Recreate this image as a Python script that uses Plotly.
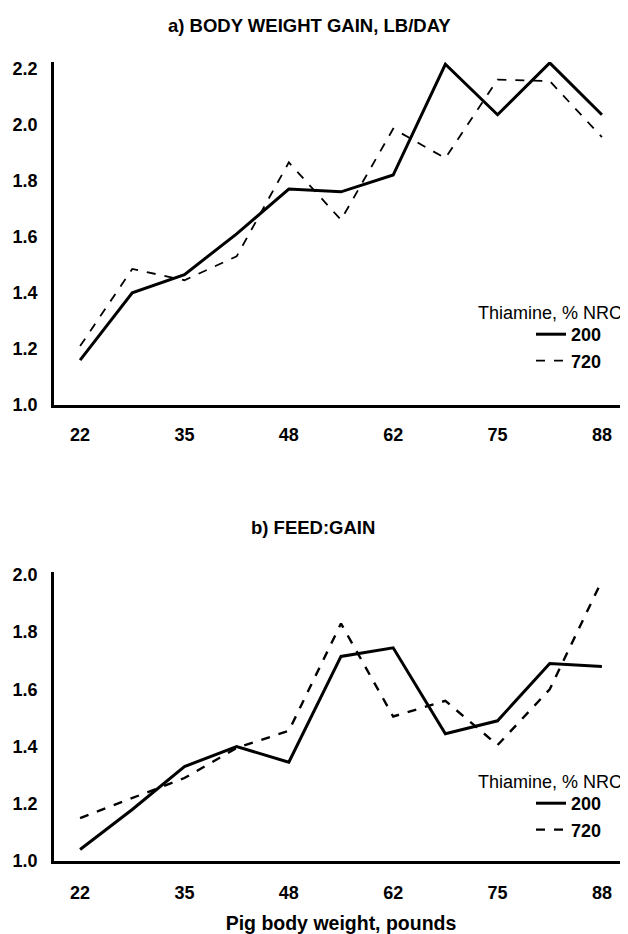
import plotly.graph_objects as go

# ---- data ----
periods = list(range(11))
tick_positions = periods[::2]
tick_labels = ["22", "35", "48", "62", "75", "88"]

gain_200 = [1.16, 1.40, 1.465, 1.61, 1.77, 1.76, 1.82, 2.215, 2.035, 2.22, 2.035]
gain_720 = [1.21, 1.485, 1.445, 1.53, 1.865, 1.66, 1.985, 1.88, 2.16, 2.155, 1.955]
fg_200 = [1.04, 1.18, 1.33, 1.40, 1.345, 1.715, 1.745, 1.445, 1.49, 1.69, 1.68]
fg_720 = [1.15, 1.22, 1.29, 1.395, 1.455, 1.83, 1.505, 1.56, 1.405, 1.60, 1.98]

gain_ticks = [1.0, 1.2, 1.4, 1.6, 1.8, 2.0, 2.2]
fg_ticks = [1.0, 1.2, 1.4, 1.6, 1.8, 2.0]

# page body has an 8px margin: figure is drawn at (8, 8)
OFF = 8
W, H = 628 - OFF, 934 - OFF
L = 54 - OFF
PW = W - L
FONT = "Liberation Sans, Arial, sans-serif"

fig = go.Figure()

fig.add_trace(go.Scatter(x=periods, y=gain_200, mode="lines", name="200",
                         line=dict(color="black", width=3), xaxis="x", yaxis="y",
                         legend="legend"))
fig.add_trace(go.Scatter(x=periods, y=gain_720, mode="lines", name="720",
                         line=dict(color="black", width=1.8, dash="dash"), xaxis="x", yaxis="y",
                         legend="legend"))
fig.add_trace(go.Scatter(x=periods, y=fg_200, mode="lines", name="200",
                         line=dict(color="black", width=3), xaxis="x2", yaxis="y2",
                         legend="legend2"))
fig.add_trace(go.Scatter(x=periods, y=fg_720, mode="lines", name="720",
                         line=dict(color="black", width=2.4, dash="dash"), xaxis="x2", yaxis="y2",
                         legend="legend2"))

def py(px):
    return 1 - (px - OFF) / H

def pxx(px):
    return (px - OFF - L) / PW

tickfont = dict(family=FONT, size=18, color="black", weight="bold")

xcommon = dict(range=[-0.5, 10.5], tickvals=tick_positions, ticktext=tick_labels,
               showline=True, linecolor="black", linewidth=2.5, showgrid=False,
               zeroline=False, ticks="", tickfont=tickfont,
               automargin=False, fixedrange=True)
ycommon = dict(showline=True, linecolor="black", linewidth=2.5, showgrid=False,
               zeroline=False, ticks="", tickfont=tickfont, tickformat=".1f",
               ticklabelstandoff=10, automargin=False)

legend_common = dict(xref="paper", yref="paper", xanchor="left", yanchor="top",
                     bgcolor="rgba(0,0,0,0)",
                     font=dict(family=FONT, size=18, weight="bold"),
                     tracegroupgap=0)

legend_title = "Thiamine, % NRC"

fig.update_layout(
    width=W, height=H,
    margin=dict(l=L, r=0, t=0, b=0, autoexpand=False),
    paper_bgcolor="white", plot_bgcolor="white",
    font=dict(family=FONT, color="black"),
    xaxis=dict(domain=[0, 1], anchor="y", ticklabelstandoff=12, **xcommon),
    yaxis=dict(domain=[py(405), py(62)], anchor="x", range=[1.0, 2.223],
               tickvals=gain_ticks, **ycommon),
    xaxis2=dict(domain=[0, 1], anchor="y2", ticklabelstandoff=14,
                title=dict(text="Pig body weight, pounds", standoff=24,
                           font=dict(family=FONT, size=19.5, weight="bold")),
                **xcommon),
    yaxis2=dict(domain=[py(861), py(572)], anchor="x2", range=[1.0, 2.01],
                tickvals=fg_ticks, **ycommon),
    legend=dict(x=pxx(531), y=py(316), **legend_common),
    legend2=dict(x=pxx(531), y=py(785), **legend_common),
    annotations=[
        dict(text="a) BODY WEIGHT GAIN, LB/DAY", xref="paper", yref="paper",
             x=pxx(309), y=py(25), showarrow=False,
             xanchor="center", yanchor="middle",
             font=dict(family=FONT, size=18.5, weight="bold")),
        dict(text="b) FEED:GAIN", xref="paper", yref="paper",
             x=pxx(313), y=py(527), showarrow=False,
             xanchor="center", yanchor="middle",
             font=dict(family=FONT, size=18.5, weight="bold")),
        dict(text=legend_title, xref="paper", yref="paper",
             x=pxx(624), y=py(313), showarrow=False,
             xanchor="right", yanchor="middle",
             font=dict(family=FONT, size=18)),
        dict(text=legend_title, xref="paper", yref="paper",
             x=pxx(624), y=py(782), showarrow=False,
             xanchor="right", yanchor="middle",
             font=dict(family=FONT, size=18)),
    ],
    showlegend=True,
)

fig.write_html("out.html")
